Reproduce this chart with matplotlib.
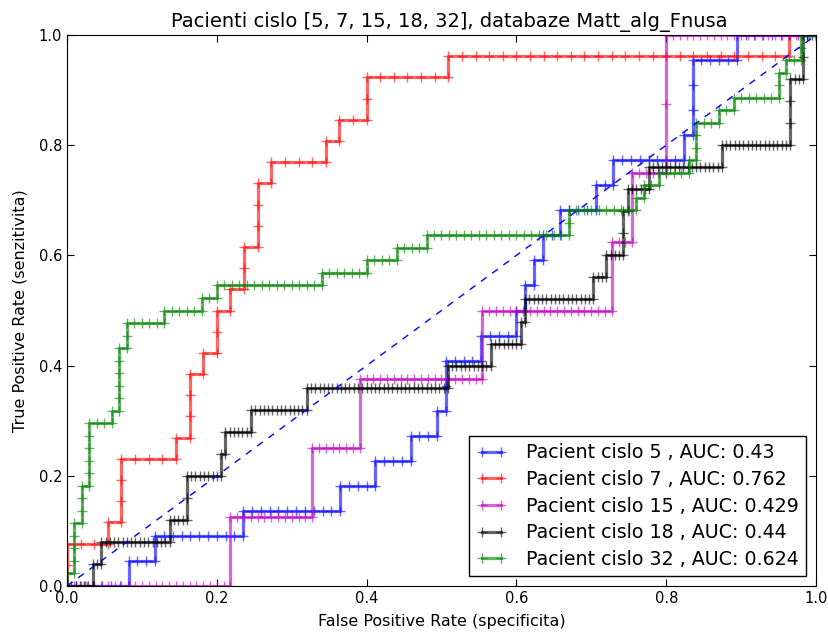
import numpy as np
import matplotlib
matplotlib.use("Agg")
import matplotlib.pyplot as plt

# patients and their AUC as printed in the legend
patients = [5, 7, 15, 18, 32]
auc_values = [0.43, 0.762, 0.429, 0.44, 0.624]
colors = ["b", "r", "m", "k", "g"]

# number of negative / positive samples per patient
n_neg = [85, 55, 110, 175, 100]
n_pos = [22, 26, 8, 25, 44]

# ROC corners:
# (negatives passed, positives passed) at each step of the curve
corners_5 = [(7, 1), (10, 2), (20, 3), (31, 4), (35, 5), (39, 6), (42, 7), (43, 9),
             (47, 10), (51, 11), (52, 12), (53, 13), (54, 14), (56, 15), (60, 16),
             (62, 17), (70, 18), (71, 21), (76, 22), (85, 22)]
corners_7 = [(0, 2), (3, 3), (4, 6), (8, 7), (9, 10), (10, 11), (11, 13), (12, 14),
             (13, 16), (14, 19), (15, 20), (19, 21), (20, 22), (22, 24), (28, 25),
             (53, 26), (55, 26)]
corners_15 = [(24, 1), (36, 2), (43, 3), (61, 4), (80, 5), (83, 6), (88, 8), (110, 8)]
corners_18 = [(6, 1), (8, 2), (24, 3), (28, 5), (36, 6), (37, 7), (43, 8), (56, 9),
              (89, 10), (99, 11), (106, 12), (107, 13), (123, 14), (126, 15),
              (130, 17), (131, 18), (136, 19), (153, 20), (169, 23), (172, 25),
              (175, 25)]
corners_32 = [(0, 1), (1, 5), (2, 8), (3, 13), (6, 14), (7, 19), (8, 21), (13, 22),
              (18, 23), (20, 24), (34, 25), (40, 26), (44, 27), (48, 28), (67, 30),
              (76, 31), (77, 32), (79, 33), (83, 34), (84, 37), (87, 38), (89, 39),
              (95, 41), (96, 42), (98, 44), (100, 44)]
all_corners = [corners_5, corners_7, corners_15, corners_18, corners_32]


def roc_points(corners, negs, poss):
    # one point per sample, like roc_curve without dropping intermediates
    fpr, tpr = [0], [0]
    n, p = 0, 0
    for cn, cp in corners:
        while n < cn:
            n += 1
            fpr.append(n)
            tpr.append(p)
        while p < cp:
            p += 1
            fpr.append(n)
            tpr.append(p)
    return np.array(fpr) / negs, np.array(tpr) / poss


def plot_roc():
    fig = plt.figure(figsize=(8.29, 6.33), dpi=100)
    ax = fig.add_axes([67 / 829, 1 - 586 / 633, 749 / 829, 551 / 633])

    for i in range(len(patients)):
        fpr, tpr = roc_points(all_corners[i], n_neg[i], n_pos[i])
        label = "Pacient cislo " + str(patients[i]) + " , AUC: " + str(auc_values[i])
        ax.plot(fpr, tpr, color=colors[i], lw=2.3, alpha=0.6, marker="+",
                ms=6.5, mew=1, label=label)

    ax.plot([0, 1], [0, 1], color="b", lw=1, linestyle=(0, (5, 5)))

    ax.set_xlim(0, 1)
    ax.set_ylim(0, 1)
    ax.set_xticks(np.arange(0, 1.01, 0.2))
    ax.set_yticks(np.arange(0, 1.01, 0.2))
    ax.tick_params(direction="in", top=True, right=True, length=5, labelsize=10.5)
    ax.set_title("Pacienti cislo [5, 7, 15, 18, 32], databaze Matt_alg_Fnusa",
                 fontsize=14, x=0.51)
    ax.set_xlabel("False Positive Rate (specificita)", fontsize=11.5, labelpad=6)
    ax.set_ylabel("True Positive Rate (senzitivita)", fontsize=11.5, labelpad=8)

    leg = ax.legend(loc="lower right", fontsize=13.7, numpoints=2, fancybox=False,
                    framealpha=1, borderaxespad=0.5, labelspacing=0.4,
                    handlelength=1.6, handletextpad=1.0)
    leg.get_frame().set_edgecolor("black")

    plt.savefig("out.png", dpi=100)


if __name__ == "__main__":
    plot_roc()
